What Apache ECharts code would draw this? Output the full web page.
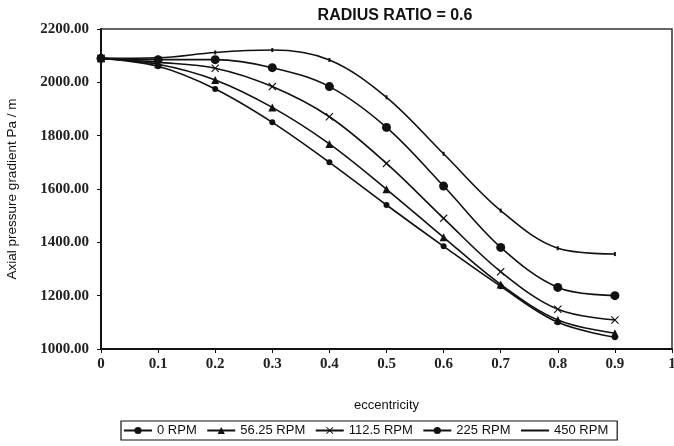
<!DOCTYPE html>
<html><head><meta charset="utf-8">
<script src="https://cdn.jsdelivr.net/npm/echarts@6/dist/echarts.min.js"></script>
<style>html,body{margin:0;padding:0;background:#fff}#c{width:674px;height:446px}</style>
</head><body><div id="c"></div>
<script>
const eccentricity = [0, 0.1, 0.2, 0.3, 0.4, 0.5, 0.6, 0.7, 0.8, 0.9];
const rpm0    = [2090, 2060, 1975, 1850, 1700, 1540, 1385, 1235, 1100, 1044];
const rpm5625 = [2090, 2068, 2009, 1906, 1769, 1599, 1419, 1242, 1109, 1059];
const rpm1125 = [2090, 2075, 2053, 1984, 1871, 1696, 1490, 1290, 1149, 1109];
const rpm225  = [2090, 2085, 2085, 2055, 1984, 1831, 1611, 1381, 1231, 1200];
const rpm450  = [2090, 2092, 2112, 2121, 2084, 1944, 1732, 1519, 1378, 1356];
const seriesNames = ['0 RPM', '56.25 RPM', '112.5 RPM', '225 RPM', '450 RPM'];
const xTicks = [0, 0.1, 0.2, 0.3, 0.4, 0.5, 0.6, 0.7, 0.8, 0.9, 1];

const crossPath = 'path://M0,1L1,0L5,4L9,0L10,1L6,5L10,9L9,10L5,6L1,10L0,9L4,5Z';
const symbols = ['circle', 'triangle', crossPath, 'circle', 'rect'];
const sizes = [6, 8, 8, 9, [2, 4]];
const datasets = [rpm0, rpm5625, rpm1125, rpm225, rpm450];

const chart = echarts.init(document.getElementById('c'), null, {renderer: 'canvas'});
chart.setOption({
  animation: false,
  backgroundColor: '#fff',
  title: {
    text: 'RADIUS RATIO = 0.6', left: 390, top: 3, textAlign: 'center',
    textStyle: {fontFamily: 'Liberation Sans, Arial', fontWeight: 'bold', fontSize: 16, color: '#111'}
  },
  grid: {left: 101, right: 2, top: 29, bottom: 97, show: true, borderColor: '#333', borderWidth: 1.5,
    backgroundColor: '#fff', containLabel: false, outerBoundsMode: 'none'},
  legend: {
    data: seriesNames.map((n, i) => i === 4
      ? {name: n, itemStyle: {color: 'rgba(0,0,0,0)', borderColor: 'rgba(0,0,0,0)', opacity: 0}, lineStyle: {color: '#111'}}
      : {name: n}),
    left: 121, top: 421, width: 510,
    itemWidth: 28, itemHeight: 9, itemGap: 9.5,
    borderColor: '#111', borderWidth: 1.2, padding: [3, 9, 3, 2],
    textStyle: {fontFamily: 'Liberation Sans, Arial', fontSize: 13, color: '#111'}
  },
  xAxis: {
    type: 'value', min: 0, max: 1, interval: 0.1,
    name: 'eccentricity', nameLocation: 'middle', nameGap: 50,
    nameTextStyle: {fontFamily: 'Liberation Sans, Arial', fontSize: 13, color: '#111'},
    axisLine: {lineStyle: {color: '#111', width: 2}},
    axisTick: {show: true, length: 4, lineStyle: {color: '#111'}},
    axisLabel: {fontFamily: 'Liberation Serif, Times New Roman', fontSize: 15, fontWeight: 'bold', color: '#222', margin: 8,
      formatter: v => { const r = Math.round(v*10)/10; return xTicks.includes(r) ? String(r) : ''; }},
    splitLine: {show: false}
  },
  yAxis: {
    type: 'value', min: 1000, max: 2200, interval: 200,
    name: 'Axial pressure gradient Pa / m', nameLocation: 'middle', nameGap: 82, nameRotate: 90,
    nameTextStyle: {fontFamily: 'Liberation Sans, Arial', fontSize: 13.5, color: '#111'},
    axisLine: {show: true, lineStyle: {color: '#111', width: 2}},
    axisTick: {show: true, length: 4, lineStyle: {color: '#111'}},
    axisLabel: {fontFamily: 'Liberation Serif, Times New Roman', fontSize: 15, fontWeight: 'bold', color: '#222', margin: 12,
      formatter: v => v.toFixed(2)},
    splitLine: {show: false}
  },
  series: datasets.map((d, i) => ({
    name: seriesNames[i], type: 'line', smooth: 0.35,
    data: d.map((v, j) => [eccentricity[j], v]),
    symbol: symbols[i], symbolSize: sizes[i], showSymbol: true,
    lineStyle: {color: '#111', width: 1.6},
    itemStyle: {color: '#111', borderColor: '#111', borderWidth: 0}
  }))
});
</script></body></html>
